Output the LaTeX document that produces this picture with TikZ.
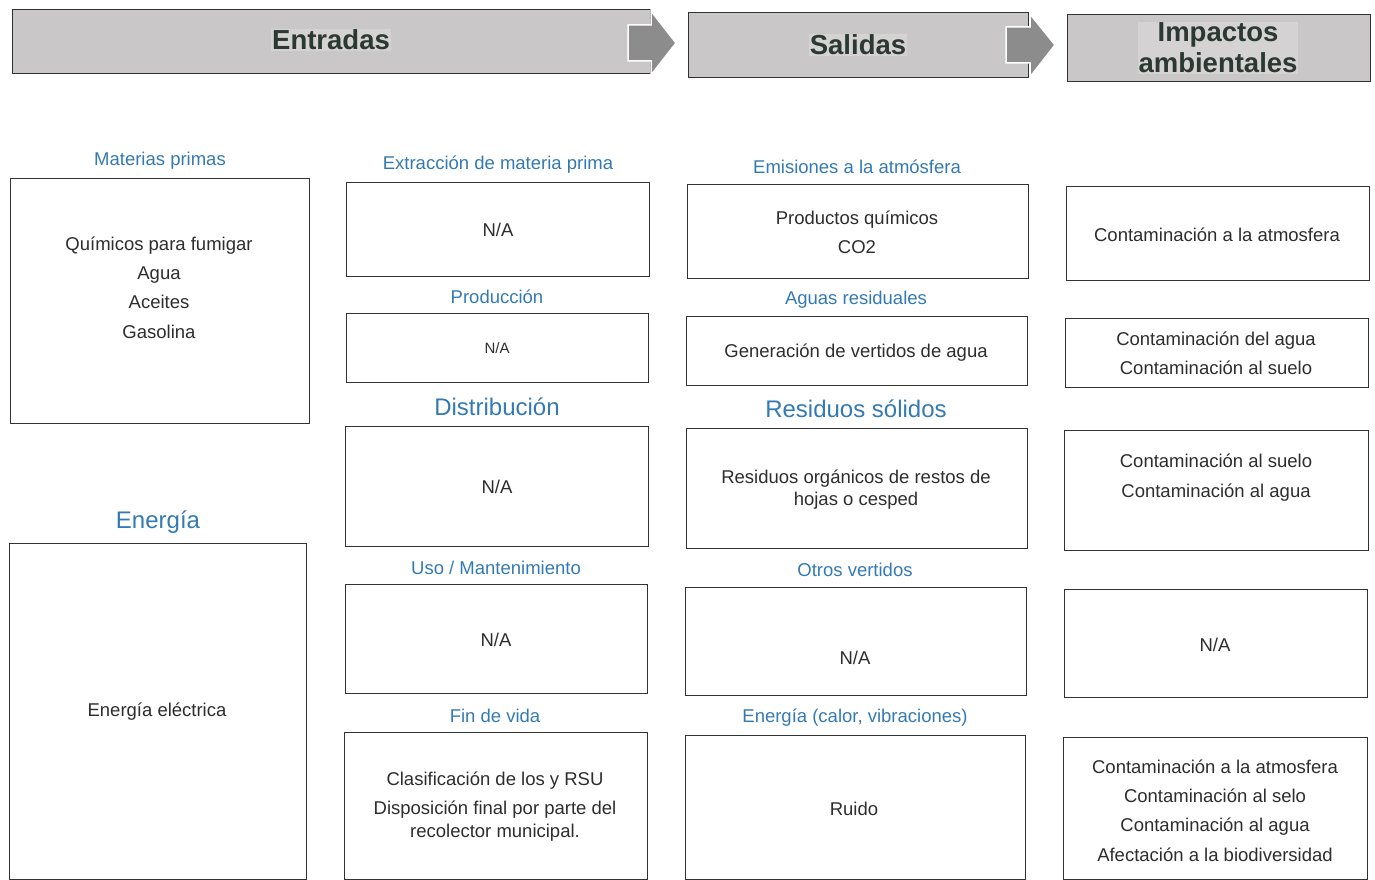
\documentclass[tikz,border=0pt]{standalone}
\usepackage{fontspec}
\setmainfont{Liberation Sans}
\definecolor{hdrfill}{RGB}{201,199,199}
\definecolor{hdrtbg}{RGB}{212,210,210}
\definecolor{hdrtext}{RGB}{44,56,50}
\definecolor{arrowc}{RGB}{140,140,140}
\definecolor{boxc}{RGB}{50,50,50}
\definecolor{textc}{RGB}{45,45,45}
\definecolor{bluec}{RGB}{52,122,178}
\tikzset{
  hdr/.style={draw=boxc, fill=hdrfill, line width=1.2pt, anchor=north west, inner sep=0pt},
  hdrtxt/.style={fill=hdrtbg, inner sep=1pt, text=hdrtext, font=\fontsize{27.5}{31}\selectfont\bfseries, align=center},
  arrowshape/.style={fill=arrowc, draw=white, line width=1.5pt, line join=miter},
  box/.style={draw=boxc, line width=1.1pt, anchor=north west, inner sep=0pt},
  txt/.style={text=textc, font=\fontsize{18.5}{29.3}\selectfont, align=center, inner sep=0pt, yshift=-1.5pt},
  smalltxt/.style={text=textc, font=\fontsize{15}{18}\selectfont, align=center, inner sep=0pt, yshift=-1pt},
  lab/.style={text=bluec, font=\fontsize{18.5}{22}\selectfont, inner sep=0pt, yshift=-2.5pt},
  biglab/.style={text=bluec, font=\fontsize{24}{28}\selectfont, inner sep=0pt, yshift=-2.5pt}
}
\begin{document}
\begin{tikzpicture}[x=1pt,y=-1pt]
\useasboundingbox (0,0) rectangle (1375,880);
% ---------- headers ----------
\node[hdr, minimum width=638, minimum height=64] (h1) at (12,9) {};
\node[hdr, minimum width=340, minimum height=65] (h2) at (688,12) {};
\node[hdr, minimum width=303, minimum height=67] (h3) at (1067,14) {};
\draw[arrowshape] (628,25) -- (651,25) -- (651,11) -- (676,43) -- (651,75) -- (651,61) -- (628,61) -- cycle;
\draw[arrowshape] (1006,27) -- (1030,27) -- (1030,14) -- (1055,45) -- (1030,77) -- (1030,63) -- (1006,63) -- cycle;
\node[hdrtxt] (t1) at (331,40) {Entradas};
\node[hdrtxt] (t2) at (858,45) {Salidas};
\node[hdrtxt] (t3) at (1218,48) {Impactos\\ambientales};
% ---------- column 1 ----------
\node[lab] (l11) at (160,158) {Materias primas};
\node[box, minimum width=299, minimum height=245] (b11) at (10,178) {};
\node[txt] (x11) at (159,286) {Químicos para fumigar\\Agua\\Aceites\\Gasolina};
\node[biglab] (l12) at (158,520) {Energía};
\node[box, minimum width=297, minimum height=336] (b12) at (9,543) {};
\node[txt] (x12) at (157,710) {Energía eléctrica};
% ---------- column 2 ----------
\node[lab] (l21) at (498,162) {Extracción de materia prima};
\node[box, minimum width=303, minimum height=94] (b21) at (346,182) {};
\node[txt] (x21) at (498,228) {N/A};
\node[lab] (l22) at (497,294) {Producción};
\node[box, minimum width=302, minimum height=69] (b22) at (346,313) {};
\node[smalltxt] (x22) at (497,347) {N/A};
\node[biglab] (l23) at (497,404) {Distribución};
\node[box, minimum width=303, minimum height=120] (b23) at (345,426) {};
\node[txt] (x23) at (497,485) {N/A};
\node[lab] (l24) at (496,565) {Uso / Mantenimiento};
\node[box, minimum width=302, minimum height=109] (b24) at (345,584) {};
\node[txt] (x24) at (496,638) {N/A};
\node[lab] (l25) at (495,713) {Fin de vida};
\node[box, minimum width=303, minimum height=147] (b25) at (344,732) {};
\node[txt] (x25) at (495,805) {Clasificación de los y RSU\\Disposición final por parte del\\[-7pt]recolector municipal.};
% ---------- column 3 ----------
\node[lab] (l31) at (857,164) {Emisiones a la atmósfera};
\node[box, minimum width=341, minimum height=94] (b31) at (687,184) {};
\node[txt] (x31) at (857,231) {Productos químicos\\CO2};
\node[lab] (l32) at (856,297) {Aguas residuales};
\node[box, minimum width=341, minimum height=69] (b32) at (686,316) {};
\node[txt] (x32) at (856,351) {Generación de vertidos de agua};
\node[biglab] (l33) at (856,406) {Residuos sólidos};
\node[box, minimum width=341, minimum height=120] (b33) at (686,428) {};
\node[txt] (x33) at (856,488) {Residuos orgánicos de restos de\\[-7pt]hojas o cesped};
\node[lab] (l34) at (855,567) {Otros vertidos};
\node[box, minimum width=341, minimum height=108] (b34) at (685,587) {};
\node[txt] (x34) at (855,656) {N/A};
\node[lab] (l35) at (855,715) {Energía (calor, vibraciones)};
\node[box, minimum width=340, minimum height=144] (b35) at (685,735) {};
\node[txt] (x35) at (854,807) {Ruido};
% ---------- column 4 ----------
\node[box, minimum width=303, minimum height=94] (b41) at (1066,186) {};
\node[txt] (x41) at (1217,233) {Contaminación a la atmosfera};
\node[box, minimum width=303, minimum height=69] (b42) at (1065,318) {};
\node[txt] (x42) at (1216,352) {Contaminación del agua\\Contaminación al suelo};
\node[box, minimum width=304, minimum height=120] (b43) at (1064,430) {};
\node[txt] (x43) at (1216,476) {Contaminación al suelo\\Contaminación al agua};
\node[box, minimum width=303, minimum height=108] (b44) at (1064,589) {};
\node[txt] (x44) at (1215,643) {N/A};
\node[box, minimum width=304, minimum height=142] (b45) at (1063,737) {};
\node[txt] (x45) at (1215,809) {Contaminación a la atmosfera\\Contaminación al selo\\Contaminación al agua\\Afectación a la biodiversidad};
\end{tikzpicture}
\end{document}
